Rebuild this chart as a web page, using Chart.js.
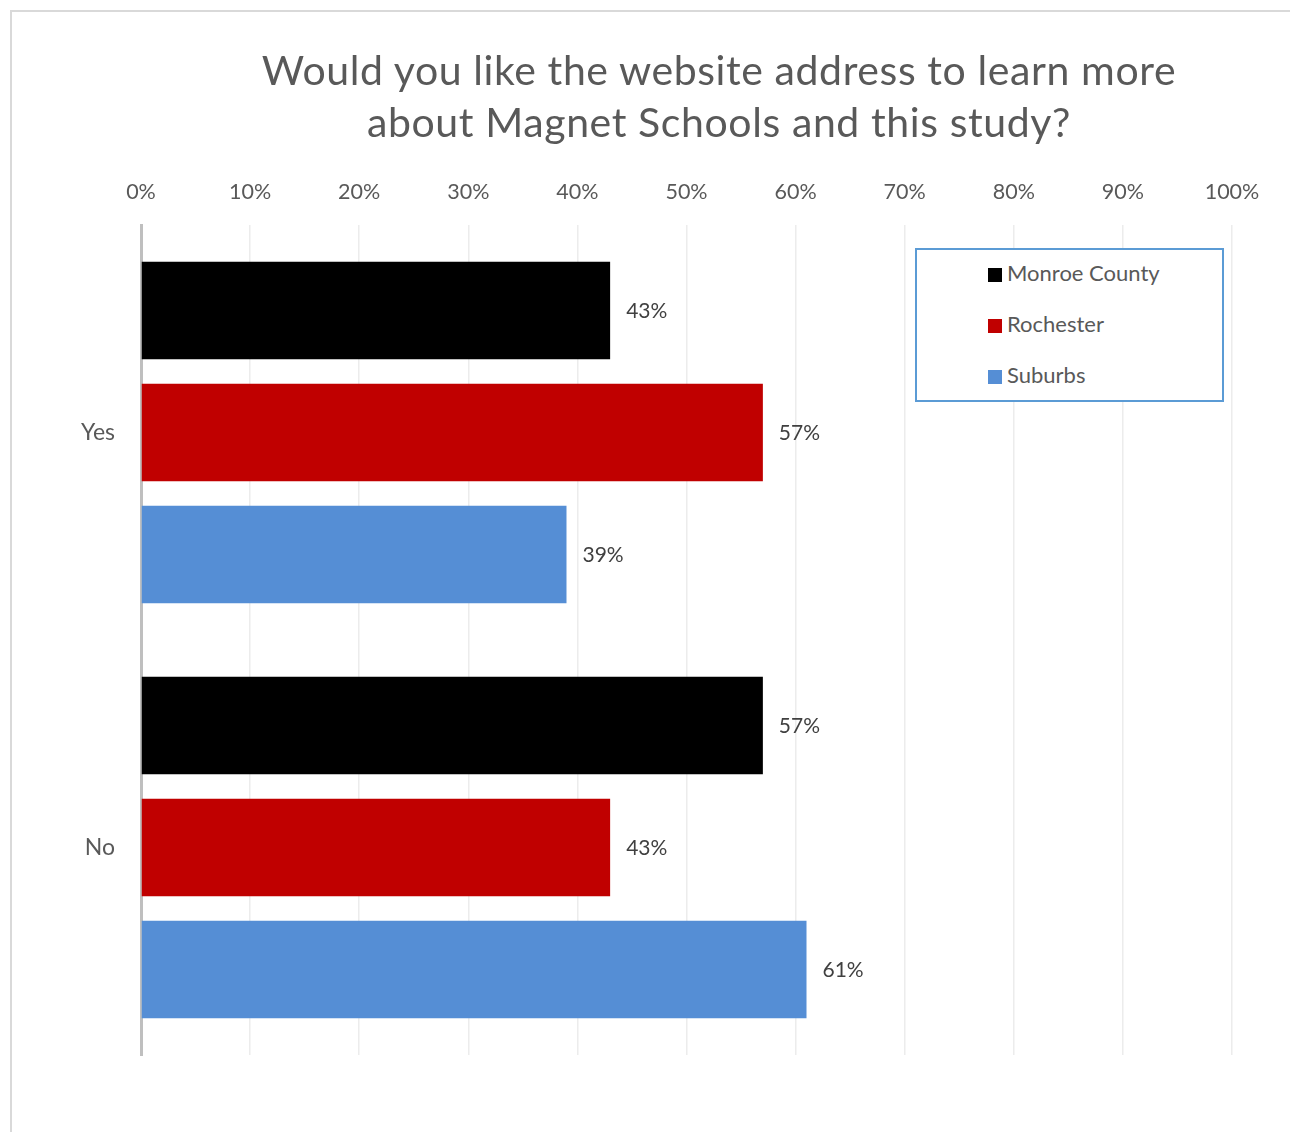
<!DOCTYPE html>
<html>
<head>
<meta charset="utf-8">
<script src="https://cdn.jsdelivr.net/npm/chart.js@4"></script>
<style>
  body { margin: 0; background: #fff; }
  #wrap { position: relative; width: 1290px; height: 1132px; overflow: hidden; }
  #frame { position: absolute; left: 10px; top: 10px; width: 1400px; height: 1200px;
           border-left: 2px solid #d9d9d9; border-top: 2px solid #d9d9d9; }
  #title { position: absolute; left: 219px; top: 44px; width: 1000px; text-align: center;
           font-family: Lato, sans-serif; font-size: 41px; line-height: 52px; color: #595959;
           letter-spacing: 0.6px; }
  #legend { position: absolute; left: 915px; top: 248px; width: 305px; height: 150px;
            border: 2px solid #5b9bd5; background: #fff; font-family: Lato, sans-serif;
            font-size: 22px; color: #595959; }
  #legend div { position: absolute; left: 71px; height: 24px; line-height: 24px; white-space: nowrap; }
  #legend span { display: inline-block; width: 14px; height: 14px; margin-right: 5px; vertical-align: -1px; }
  #chartBox { position: absolute; left: 0; top: 0; width: 1290px; height: 1132px; }
</style>
</head>
<body>
<div id="wrap">
  <div id="frame"></div>
  <div id="chartBox"><canvas id="myChart"></canvas></div>
  <div id="title">Would you like the website address to learn more<br>about Magnet Schools and this study?</div>
  <div id="legend"></div>
</div>
<script>
const categories = ['Yes', 'No'];
const seriesNames = ['Monroe County', 'Rochester', 'Suburbs'];
const monroeCounty = [43, 57];
const rochester = [57, 43];
const suburbs = [39, 61];
const tickValues = [0, 10, 20, 30, 40, 50, 60, 70, 80, 90, 100];
const colors = ['#000000', '#c00000', '#558ed5'];

const fontFamily = 'Lato, sans-serif';

// percent labels just right of each bar
const valueLabels = {
  id: 'valueLabels',
  afterDatasetsDraw(chart) {
    const ctx = chart.ctx;
    ctx.save();
    ctx.font = '21px ' + fontFamily;
    ctx.fillStyle = '#404040';
    ctx.textAlign = 'left';
    ctx.textBaseline = 'middle';
    chart.data.datasets.forEach((ds, i) => {
      chart.getDatasetMeta(i).data.forEach((bar, j) => {
        ctx.fillText(ds.data[j] + '%', bar.x + 16, bar.y + 1);
      });
    });
    ctx.restore();
  }
};

const data = {
  labels: categories,
  datasets: [
    { label: seriesNames[0], data: monroeCounty, backgroundColor: colors[0] },
    { label: seriesNames[1], data: rochester, backgroundColor: colors[1] },
    { label: seriesNames[2], data: suburbs, backgroundColor: colors[2] }
  ]
};

const config = {
  type: 'bar',
  data: data,
  plugins: [valueLabels],
  options: {
    indexAxis: 'y',
    responsive: true,
    maintainAspectRatio: false,
    animation: false,
    categoryPercentage: 0.882,
    barPercentage: 0.8,
    layout: { padding: { left: 20, right: 58, top: 150, bottom: 77 } },
    plugins: {
      legend: { display: false },
      title: { display: false },
      tooltip: { enabled: false }
    },
    scales: {
      x: {
        position: 'top',
        min: 0,
        max: 100,
        afterBuildTicks: scale => { scale.ticks = tickValues.map(v => ({ value: v })); },
        afterFit: scale => { scale.height = 75; },
        ticks: {
          padding: 20,
          color: '#595959',
          font: { family: fontFamily, size: 21.5 },
          callback: v => v + '%'
        },
        grid: { color: '#ececec', lineWidth: 1.5, drawTicks: false },
        border: { display: false }
      },
      y: {
        afterFit: scale => { scale.width = 121; },
        ticks: {
          padding: 26,
          color: '#595959',
          font: { family: fontFamily, size: 23 }
        },
        grid: { display: false, drawTicks: false },
        border: { color: '#bfbfbf', width: 3 }
      }
    }
  }
};

const ctx = document.getElementById('myChart');
const myChart = new Chart(ctx, config);

const legendBox = document.getElementById('legend');
seriesNames.forEach((name, i) => {
  const item = document.createElement('div');
  item.style.top = (11 + i * 51) + 'px';
  const sw = document.createElement('span');
  sw.style.background = colors[i];
  item.appendChild(sw);
  item.appendChild(document.createTextNode(name));
  legendBox.appendChild(item);
});
</script>
</body>
</html>
